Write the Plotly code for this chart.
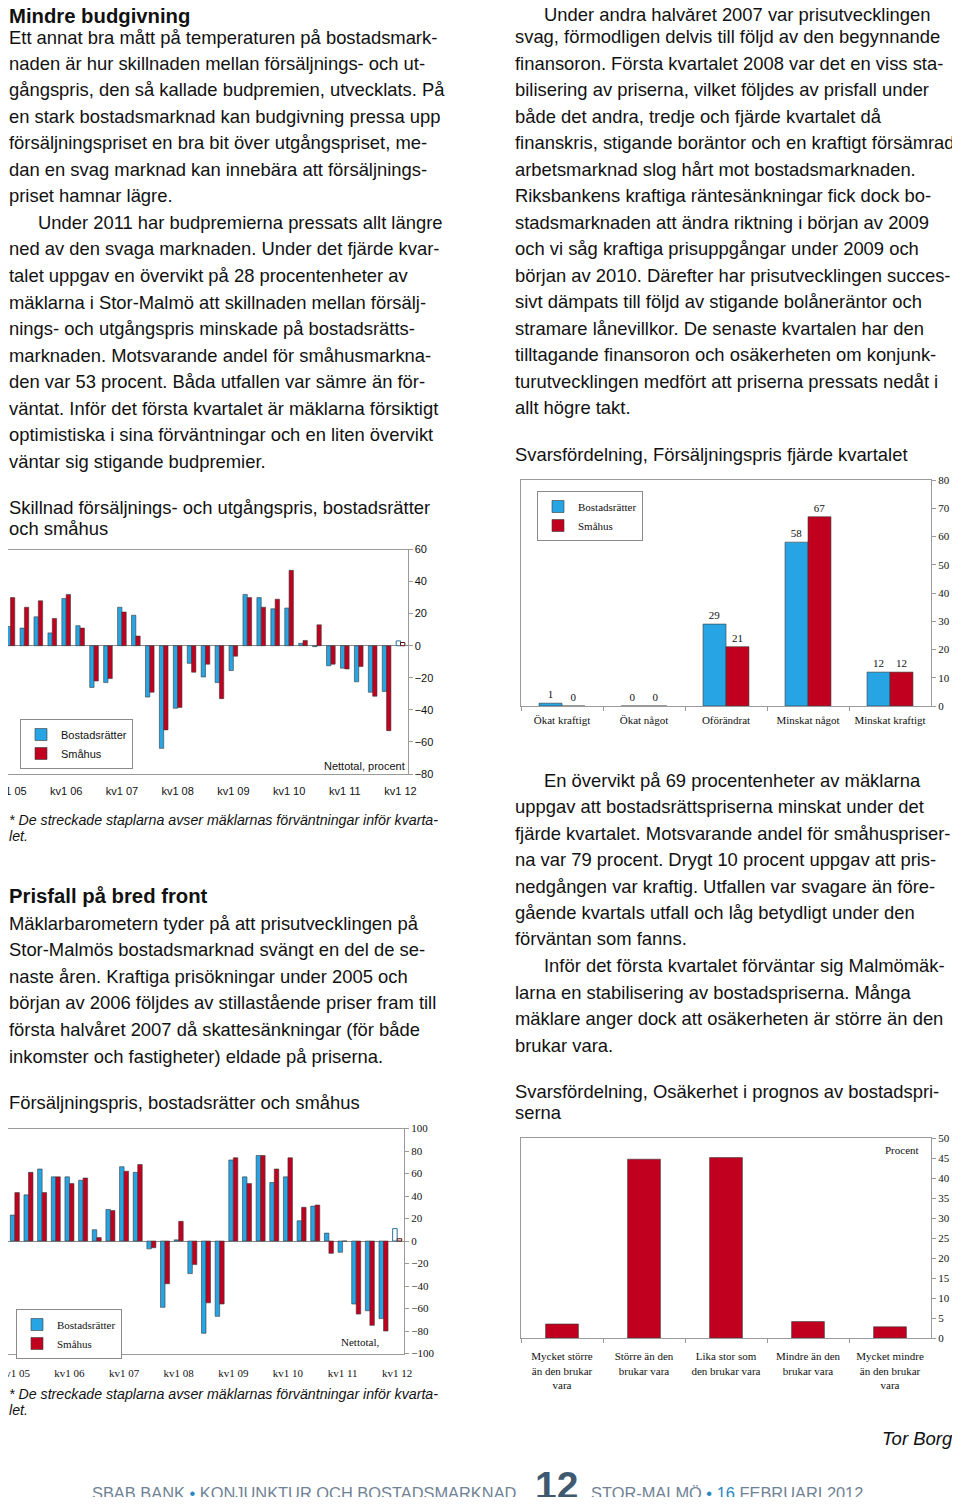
import plotly.graph_objects as go

# The page keeps the browser's default 8px body margin, so the figure is 16px smaller than
# the 960x1505 window and positions (given in window pixels) are shifted by that margin.
M = 8
W, H = 960 - 2 * M, 1505 - 2 * M
def X(px): return (px - M) / W
def Y(py): return 1 - (py - M) / H

# ---------------- DATA ----------------
year_ticks = [0, 4, 8, 12, 16, 20, 24, 28]
year_labels = ["kv1 05", "kv1 06", "kv1 07", "kv1 08", "kv1 09", "kv1 10", "kv1 11", "kv1 12"]
quarters = list(range(28))
forecast_q = [28]

# Skillnad försäljnings- och utgångspris (nettotal, procent)
budpremie_br = [12, 11, 18, 8, 29.5, 12.5, -26, -23, 24, 19, -32, -64, -39, -11,
                -19.5, -23, -15.5, 32, 30, 23, 23.5, 1.5, -0.6, -12.5, -14, -22.5, -29, -28.5]
budpremie_sh = [30, 24, 28, 17, 32, 11, -22, -20.5, 21, 6, -29, -52.5, -38.5, -16.5,
                -11.5, -33, -6.5, 30, 24, 29, 47, 3.3, 13, -11.5, -14.5, -13, -31.5, -53]
budpremie_br_fc = [3]
budpremie_sh_fc = [2]

# Försäljningspris (nettotal)
pris_br = [23, 41, 64, 57, 57, 54, 10, 28, 66, 61, -7, -59, 1, -29, -82, -67,
           72, 57, 76, 52, 57, 18, 31, 7, -10, -56, -62, -69]
pris_sh = [43, 61, 43, 57, 51, 56, 3, 27, 62, 68, -6, -38, 17.5, -21, -55, -56,
           74, 51, 76, 64, 74, 30, 32, -11, 0, -65, -75, -80]
pris_br_fc = [11]
pris_sh_fc = [2]

# Svarsfördelning, försäljningspris fjärde kvartalet
svar_cats = ["Ökat kraftigt", "Ökat något", "Oförändrat", "Minskat något", "Minskat kraftigt"]
svar_br = [1, 0, 29, 58, 12]
svar_sh = [0, 0, 21, 67, 12]

# Svarsfördelning, osäkerhet i prognos
osak_cats = ["Mycket större<br>än den brukar<br>vara", "Större än den<br>brukar vara",
             "Lika stor som<br>den brukar vara", "Mindre än den<br>brukar vara",
             "Mycket mindre<br>än den brukar<br>vara"]
osak_vals = [3.5, 44.7, 45.1, 4.1, 2.8]

# ---------------- STYLE ----------------
BLUE = "#27a4e3"
RED = "#c1001f"
EDGE = "#3a3a3a"
FRAME = "#9a9a9a"
SANS = "Liberation Sans"
SERIF = "Liberation Serif"
TXT = "#111111"
BODY = 18.4
SMALL = 11

fig = go.Figure()

def add_pair(xa, ya, xs, b, s, xfc, bfc, sfc, w, leg):
    fig.add_trace(go.Bar(x=xs, y=b, name="Bostadsrätter", marker=dict(color=BLUE, line=dict(color=EDGE, width=0.6)),
                         width=w, offset=-w, xaxis=xa, yaxis=ya, legend=leg, showlegend=True))
    fig.add_trace(go.Bar(x=xs, y=s, name="Småhus", marker=dict(color=RED, line=dict(color=EDGE, width=0.6)),
                         width=w, offset=0, xaxis=xa, yaxis=ya, legend=leg, showlegend=True))
    fig.add_trace(go.Bar(x=xfc, y=bfc, name="Bostadsrätter prognos",
                         marker=dict(color="white", line=dict(color="#2a6f9a", width=1)),
                         width=w, offset=-w, xaxis=xa, yaxis=ya, showlegend=False))
    fig.add_trace(go.Bar(x=xfc, y=sfc, name="Småhus prognos",
                         marker=dict(color="white", line=dict(color="#5a1010", width=1)),
                         width=w, offset=0, xaxis=xa, yaxis=ya, showlegend=False))

add_pair("x", "y", quarters, budpremie_br, budpremie_sh, forecast_q, budpremie_br_fc, budpremie_sh_fc, 0.31, "legend")
add_pair("x2", "y2", quarters, pris_br, pris_sh, forecast_q, pris_br_fc, pris_sh_fc, 0.33, "legend2")

# chart 3
fig.add_trace(go.Bar(x=svar_cats, y=svar_br, name="Bostadsrätter", width=0.28, offset=-0.28,
                     marker=dict(color=BLUE, line=dict(color=EDGE, width=0.6)),
                     text=[str(v) for v in svar_br], textposition="outside", cliponaxis=False,
                     textfont=dict(family=SERIF, size=SMALL, color=TXT),
                     xaxis="x3", yaxis="y3", legend="legend3"))
fig.add_trace(go.Bar(x=svar_cats, y=svar_sh, name="Småhus", width=0.28, offset=0,
                     marker=dict(color=RED, line=dict(color=EDGE, width=0.6)),
                     text=[str(v) for v in svar_sh], textposition="outside", cliponaxis=False,
                     textfont=dict(family=SERIF, size=SMALL, color=TXT),
                     xaxis="x3", yaxis="y3", legend="legend3"))
# chart 4
fig.add_trace(go.Bar(x=osak_cats, y=osak_vals, name="Procent", width=0.4,
                     marker=dict(color=RED, line=dict(color=EDGE, width=0.6)),
                     xaxis="x4", yaxis="y4", showlegend=False))

# ---------------- AXES ----------------
def x_domain_range(dom, rng):
    """Domain in paper units (clamped to >= 0); the range is trimmed so category spacing stays."""
    d0, d1 = X(dom[0]), X(dom[1])
    if d0 < 0:
        per = (rng[1] - rng[0]) / (d1 - d0)
        rng = [rng[0] + (0 - d0) * per, rng[1]]
        d0 = 0.0
    return [d0, min(d1, 1.0)], rng

def frame_x(dom, anchor, tickvals=None, ticktext=None, font=SANS, rng=(-0.5, 4.5), boundaries=False, standoff=4):
    domain, rng = x_domain_range(dom, list(rng))
    d = dict(domain=domain, range=rng, anchor=anchor, showgrid=False, zeroline=False, showline=True,
             mirror=True, linecolor=FRAME, linewidth=1, tickfont=dict(family=font, size=SMALL, color=TXT),
             fixedrange=True, automargin=False, ticklabeloverflow="allow", ticklabelstandoff=standoff)
    if tickvals is not None:
        d.update(tickmode="array", tickvals=tickvals, ticktext=ticktext, ticks="")
    if boundaries:
        d.update(tickson="boundaries", ticks="outside", ticklen=4, tickcolor=FRAME)
    return d

def frame_y(dom, anchor, rng, dtick, font=SANS, zero=True):
    return dict(domain=[max(Y(dom[1]), 0.0), min(Y(dom[0]), 1.0)], anchor=anchor, range=rng, dtick=dtick,
                side="right", showgrid=False, zeroline=zero, zerolinecolor="#8a8a8a", zerolinewidth=1,
                showline=True, mirror=True, linecolor=FRAME, linewidth=1, ticks="outside", ticklen=4,
                tickcolor=FRAME, tickfont=dict(family=font, size=SMALL, color=TXT), fixedrange=True,
                automargin=False)

c1x, c1y = (3.5, 407.5), (549.5, 774)
c2x, c2y = (8, 404), (1128.5, 1353.5)
c3x, c3y = (521, 931), (480, 706)
c4x, c4y = (521, 931), (1138, 1338)

def zero_pos(ydom, rng):
    top, bot = ydom
    return Y(bot - (0 - rng[0]) / (rng[1] - rng[0]) * (bot - top))

r1, r2 = [-80, 60], [-100, 100]
ax1 = frame_x(c1x, "y", year_ticks, year_labels, SANS, (-0.5, 28.5), standoff=7)
ax2 = frame_x(c2x, "y2", year_ticks, year_labels, SERIF, (-0.5, 28.5), standoff=9)
fig.update_layout(
    xaxis=ax1,
    yaxis=frame_y(c1y, "x", r1, 20, SANS),
    xaxis2=ax2,
    yaxis2=frame_y(c2y, "x2", r2, 20, SERIF),
    xaxis3=frame_x(c3x, "y3", font=SERIF, boundaries=True, standoff=4),
    yaxis3=frame_y(c3y, "x3", [0, 80], 10, SERIF, zero=False),
    xaxis4=frame_x(c4x, "y4", font=SERIF, boundaries=True, standoff=8),
    yaxis4=frame_y(c4y, "x4", [0, 50], 5, SERIF, zero=False),
    xaxis5=dict(overlaying="x", anchor="free", position=zero_pos(c1y, r1), range=ax1["range"],
                tickmode="array", tickvals=[i + 0.5 for i in range(28)], ticks="outside", ticklen=3,
                tickcolor="#8a8a8a", showticklabels=False, showgrid=False, zeroline=False, showline=False,
                fixedrange=True, automargin=False),
    xaxis6=dict(overlaying="x2", anchor="free", position=zero_pos(c2y, r2), range=ax2["range"],
                tickmode="array", tickvals=[i + 0.5 for i in range(28)], ticks="outside", ticklen=3,
                tickcolor="#8a8a8a", showticklabels=False, showgrid=False, zeroline=False, showline=False,
                fixedrange=True, automargin=False),
)

leg_common = dict(xanchor="left", yanchor="top", bgcolor="white", bordercolor="#8a8a8a", borderwidth=1,
                  tracegroupgap=0, itemwidth=30, orientation="v")
fig.update_layout(
    legend=dict(x=X(20), y=Y(719), font=dict(family=SANS, size=SMALL, color=TXT), **leg_common),
    legend2=dict(x=X(16), y=Y(1309), font=dict(family=SERIF, size=SMALL, color=TXT), **leg_common),
    legend3=dict(x=X(537), y=Y(491), font=dict(family=SERIF, size=SMALL, color=TXT), **leg_common),
)

# ---------------- TEXT ----------------
ann = []
def T(text, x, y, size=BODY, family=SANS, color=TXT, xanchor="left"):
    ann.append(dict(text=text, x=X(x), y=Y(y), xref="paper", yref="paper", xanchor=xanchor,
                    yanchor="middle", showarrow=False, borderpad=0,
                    font=dict(family=family, size=size, color=color)))

def block(lines, x, y0, step, first_y=None):
    for i, ln in enumerate(lines):
        ind = 0
        if isinstance(ln, tuple):
            ln, ind = ln
        y = y0 + i * step
        if i == 0 and first_y is not None:
            y = first_y
        T(ln, x + ind, y)

LX = 8
T("<b>Mindre budgivning</b>", LX, 16, size=20.3)
block([
    "Ett annat bra mått på temperaturen på bostadsmark-",
    "naden är hur skillnaden mellan försäljnings- och ut-",
    "gångspris, den så kallade budpremien, utvecklats. På",
    "en stark bostadsmarknad kan budgivning pressa upp",
    "försäljningspriset en bra bit över utgångspriset, me-",
    "dan en svag marknad kan innebära att försäljnings-",
    "priset hamnar lägre.",
    ("Under 2011 har budpremierna pressats allt längre", 29),
    "ned av den svaga marknaden. Under det fjärde kvar-",
    "talet uppgav en övervikt på 28 procentenheter av",
    "mäklarna i Stor-Malmö att skillnaden mellan försälj-",
    "nings- och utgångspris minskade på bostadsrätts-",
    "marknaden. Motsvarande andel för småhusmarkna-",
    "den var 53 procent. Båda utfallen var sämre än för-",
    "väntat. Inför det första kvartalet är mäklarna försiktigt",
    "optimistiska i sina förväntningar och en liten övervikt",
    "väntar sig stigande budpremier.",
], LX, 37, 26.5)

T("Skillnad försäljnings- och utgångspris, bostadsrätter", LX, 507)
T("och småhus", LX, 528)
T("Nettotal, procent", 406, 766, size=SMALL, xanchor="right")
T("<i>* De streckade staplarna avser mäklarnas förväntningar inför kvarta-</i>", LX, 820, size=14.2)
T("<i>let.</i>", LX, 836, size=14.2)

T("<b>Prisfall på bred front</b>", LX, 896, size=20.3)
block([
    "Mäklarbarometern tyder på att prisutvecklingen på",
    "Stor-Malmös bostadsmarknad svängt en del de se-",
    "naste åren. Kraftiga prisökningar under 2005 och",
    "början av 2006 följdes av stillastående priser fram till",
    "första halvåret 2007 då skattesänkningar (för både",
    "inkomster och fastigheter) eldade på priserna.",
], LX, 923, 26.6)
T("Försäljningspris, bostadsrätter och småhus", LX, 1102)
T("Nettotal,", 380, 1342, size=SMALL, family=SERIF, xanchor="right")
T("<i>* De streckade staplarna avser mäklarnas förväntningar inför kvarta-</i>", LX, 1394, size=14.2)
T("<i>let.</i>", LX, 1410, size=14.2)

block([
    ("Under andra halvåret 2007 var prisutvecklingen", 29),
    "svag, förmodligen delvis till följd av den begynnande",
    "finansoron. Första kvartalet 2008 var det en viss sta-",
    "bilisering av priserna, vilket följdes av prisfall under",
    "både det andra, tredje och fjärde kvartalet då",
    "finanskris, stigande boräntor och en kraftigt försämrad",
    "arbetsmarknad slog hårt mot bostadsmarknaden.",
    "Riksbankens kraftiga räntesänkningar fick dock bo-",
    "stadsmarknaden att ändra riktning i början av 2009",
    "och vi såg kraftiga prisuppgångar under 2009 och",
    "början av 2010. Därefter har prisutvecklingen succes-",
    "sivt dämpats till följd av stigande bolåneräntor och",
    "stramare lånevillkor. De senaste kvartalen har den",
    "tilltagande finansoron och osäkerheten om konjunk-",
    "turutvecklingen medfört att priserna pressats nedåt i",
    "allt högre takt.",
], 514, 10, 26.53, first_y=15)
T("Svarsfördelning, Försäljningspris fjärde kvartalet", 514, 454)

block([
    ("En övervikt på 69 procentenheter av mäklarna", 29),
    "uppgav att bostadsrättspriserna minskat under det",
    "fjärde kvartalet. Motsvarande andel för småhuspriser-",
    "na var 79 procent. Drygt 10 procent uppgav att pris-",
    "nedgången var kraftig. Utfallen var svagare än före-",
    "gående kvartals utfall och låg betydligt under den",
    "förväntan som fanns.",
    ("Inför det första kvartalet förväntar sig Malmömäk-", 29),
    "larna en stabilisering av bostadspriserna. Många",
    "mäklare anger dock att osäkerheten är större än den",
    "brukar vara.",
], 514, 780, 26.5)
T("Svarsfördelning, Osäkerhet i prognos av bostadspri-", 514, 1091)
T("serna", 514, 1112)
T("Procent", 920, 1150, size=SMALL, family=SERIF, xanchor="right")

T("<i>Tor Borg</i>", 954, 1438, size=18.5, xanchor="right")

FOOT = "#6f8295"
DOT = "#2a86c0"
T("SBAB BANK <span style='color:%s'>•</span> KONJUNKTUR OCH BOSTADSMARKNAD" % DOT, 518, 1493, size=16.4,
  color=FOOT, xanchor="right")
T("<b>12</b>", 556, 1485, size=39, color="#3f5a70", xanchor="center")
T("STOR-MALMÖ <span style='color:%s'>•</span> <span style='color:%s'>16</span> FEBRUARI 2012" % (DOT, DOT),
  590, 1493, size=16.4, color=FOOT)

fig.update_layout(
    width=W, height=H, margin=dict(l=0, r=0, t=0, b=0, pad=0, autoexpand=False),
    paper_bgcolor="white", plot_bgcolor="white", barmode="overlay",
    annotations=ann, showlegend=True,
)

fig.write_html("out.html", config={"displayModeBar": False})
